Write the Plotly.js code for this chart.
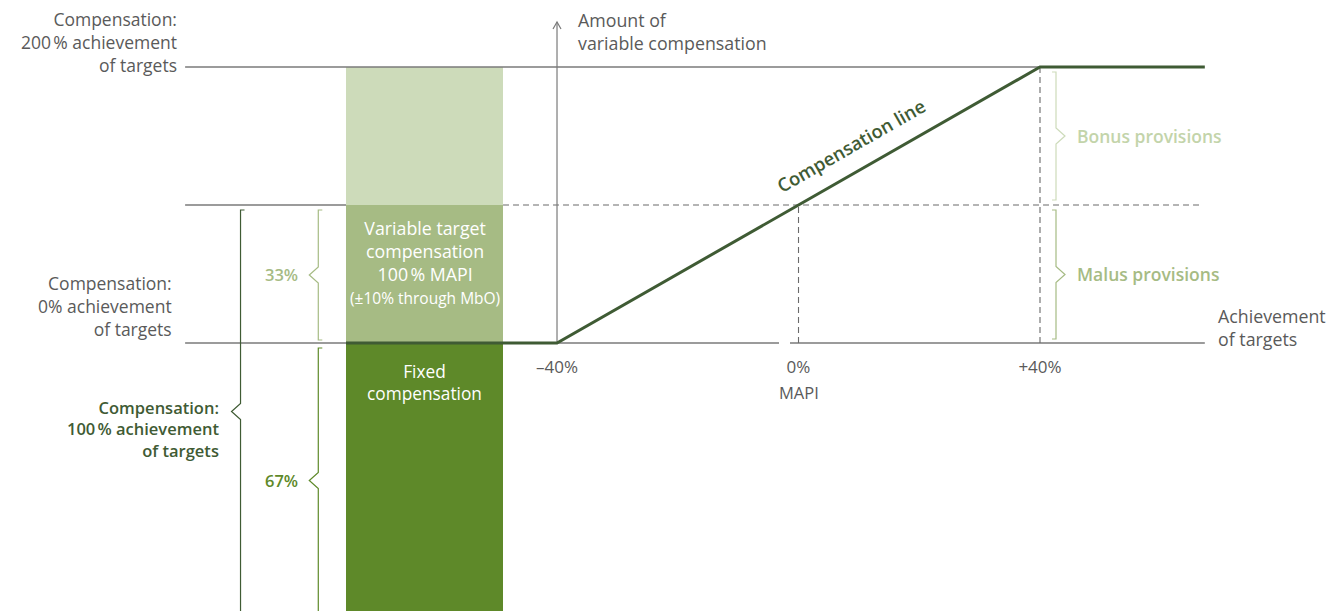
<!DOCTYPE html>
<html>
<head>
<meta charset="utf-8">
<script src="https://cdn.plot.ly/plotly-3.0.1.min.js"></script>
<style>html,body{margin:0;padding:0;background:#fff}#chart{width:1340px;height:611px}</style>
</head>
<body>
<div id="chart"></div>
<script>
// ---------------- data ----------------
const shareNames = ['Fixed compensation', 'Variable target compensation', 'Bonus provisions'];
const shareValues = [67, 33, 33];              // % of total target compensation
const shareLabels = ['67%', '33%'];
const achievementPts = [-40, 0, 40];           // achievement of targets vs MAPI (%)
const payoutPct = [0, 100, 200];               // payout of variable target (%)
const tickVals = [-40, 0, 40];
const tickText = ['\u201340%', '0%', '+40%'];
const provisionLabels = ['Bonus provisions', 'Malus provisions'];

// ---------------- layout constants ----------------
const W = 1340, H = 611;
const X_RANGE = [-132.26, 89.69];
const Y_RANGE = [2.91, 149.02];
const kx = W / (X_RANGE[1] - X_RANGE[0]);
const ky = H / (Y_RANGE[1] - Y_RANGE[0]);
const dx = n => n / kx, dy = n => n / ky;

const BAR_L = -74.95, BAR_R = -48.94, BAR_C = (BAR_L + BAR_R) / 2;
const LINE_L = -101.6, LINE_R = 67.3, DASH_R = 66.8;
const GAP = [-3.23, -1.41];
const BIG_BR_X = -92.42, PCT_BR_X = -79.54, PROV_BR_X = 42.65;

const fixed = shareValues[0], variable = shareValues[1];
const base = [0, fixed, fixed + variable];
const targetTop = fixed + variable;
const maxTop = fixed + variable + shareValues[2];
const compY = payoutPct.map(p => fixed + variable * p / 100);
const axisTop = Y_RANGE[1] - dy(22);

const GRAY = '#7a7a7a', DARK = '#3f5b34', MID = '#a6bb84', LIGHT = '#cddbba', FIX = '#5e8929';
const TXT = '#5a5a5a';
const FONT = 'Open Sans, Noto Sans, sans-serif';

// ---------------- traces ----------------
const traces = [
  {type: 'bar', x: shareValues.map(() => BAR_C), y: shareValues, base: base,
   width: shareValues.map(() => BAR_R - BAR_L), text: shareNames, textposition: 'none',
   marker: {color: [FIX, MID, LIGHT], line: {width: 0}}, hoverinfo: 'skip', showlegend: false},
  {type: 'scatter', mode: 'lines', hoverinfo: 'skip', showlegend: false,
   x: [LINE_L, achievementPts[2], null, LINE_L, BAR_L, null, LINE_L, GAP[0], null, GAP[1], LINE_R],
   y: [maxTop, maxTop, null, targetTop, targetTop, null, fixed, fixed, null, fixed, fixed],
   line: {color: GRAY, width: 1.3}},
  {type: 'scatter', mode: 'lines', hoverinfo: 'skip', showlegend: false,
   x: [BAR_R, DASH_R, null, achievementPts[1], achievementPts[1], null, achievementPts[2], achievementPts[2]],
   y: [targetTop, targetTop, null, fixed, targetTop, null, fixed, maxTop],
   line: {color: '#6a6a6a', width: 1.1, dash: '6px,4px'}},
  {type: 'scatter', mode: 'lines', hoverinfo: 'skip', showlegend: false,
   x: [achievementPts[0], achievementPts[0]], y: [fixed, axisTop],
   line: {color: GRAY, width: 1.2}},
  {type: 'scatter', mode: 'lines', hoverinfo: 'skip', showlegend: false,
   x: [BAR_L, ...achievementPts, LINE_R], y: [fixed, ...compY, compY[compY.length - 1]],
   line: {color: DARK, width: 3}}
];

// ---------------- brackets ----------------
function brace(x, yTop, yBot, dir, color) {
  // dir = -1 : notch points left, serifs to the right; dir = +1 : opposite
  const s = dx(4) * -dir, d = dx(9) * dir, h = dy(8), m = (yTop + yBot) / 2;
  return {type: 'path', xref: 'x', yref: 'y', line: {color: color, width: 1.2},
    path: `M${x + s},${yTop} L${x},${yTop} L${x},${m + h} L${x + d},${m} L${x},${m - h} L${x},${yBot} L${x + s},${yBot}`};
}
const gapY = dy(5);
const bottomY = 2.4;
const shapes = [
  brace(BIG_BR_X, targetTop - gapY, bottomY, -1, DARK),
  brace(PCT_BR_X, targetTop - gapY, fixed + dy(3), -1, MID),
  brace(PCT_BR_X, fixed - dy(5), bottomY, -1, FIX),
  brace(PROV_BR_X, maxTop - gapY, targetTop + dy(5), 1, LIGHT),
  brace(PROV_BR_X, targetTop - gapY, fixed + dy(4), 1, MID),
  {type: 'path', xref: 'x', yref: 'y', line: {color: GRAY, width: 1.2},
   path: `M${achievementPts[0] - dx(4)},${axisTop - dy(7)} L${achievementPts[0]},${axisTop} L${achievementPts[0] + dx(4)},${axisTop - dy(7)}`}
];

const mid = (a, b) => (a + b) / 2;
const ann = (o) => Object.assign({xref: 'x', yref: 'y', showarrow: false}, o);
const annotations = [
  ann({x: -102.6, y: Y_RANGE[1] - dy(42), xanchor: 'right', align: 'right',
       text: 'Compensation:<br>200\u202f% achievement<br>of targets', font: {family: FONT, size: 17.5, color: TXT}}),
  ann({x: -103.4, y: Y_RANGE[1] - dy(306), xanchor: 'right', align: 'right',
       text: 'Compensation:<br>0% achievement<br>of targets', font: {family: FONT, size: 17.5, color: TXT}}),
  ann({x: -36.9, y: Y_RANGE[1] - dy(31), xanchor: 'left', align: 'left',
       text: 'Amount of<br>variable compensation', font: {family: FONT, size: 17.8, color: TXT}}),
  ann({x: 69.2, y: Y_RANGE[1] - dy(327), xanchor: 'left', align: 'left',
       text: 'Achievement<br>of targets', font: {family: FONT, size: 17.8, color: TXT}}),
  ann({x: achievementPts[1], y: Y_RANGE[1] - dy(392), xanchor: 'center',
       text: 'MAPI', font: {family: FONT, size: 16.5, color: TXT}}),
  ann({x: BAR_C, y: Y_RANGE[1] - dy(262), xanchor: 'center', align: 'center',
       text: 'Variable target<br>compensation<br>100\u202f% MAPI<br><span style="font-size:15.5px">(\u00b110% through MbO)</span>',
       font: {family: FONT, size: 17.8, color: '#ffffff'}}),
  ann({x: BAR_C, y: Y_RANGE[1] - dy(382), xanchor: 'center', align: 'center',
       text: 'Fixed<br>compensation', font: {family: FONT, size: 17.3, color: '#ffffff'}}),
  ann({x: -82.57, y: mid(targetTop - gapY, fixed + dy(3)), xanchor: 'right',
       text: shareLabels[1], font: {family: FONT, size: 16.5, color: MID, weight: 600}}),
  ann({x: -82.57, y: mid(fixed - dy(5), bottomY), xanchor: 'right',
       text: shareLabels[0], font: {family: FONT, size: 16.5, color: FIX, weight: 600}}),
  ann({x: -95.65, y: mid(targetTop - gapY, bottomY) + dy(18), xanchor: 'right', yanchor: 'top', align: 'right',
       text: 'Compensation:<br>100\u202f% achievement<br>of targets', font: {family: FONT, size: 16.5, color: DARK, weight: 600}}),
  ann({x: 45.8, y: mid(maxTop - gapY, targetTop + dy(5)), xanchor: 'left',
       text: provisionLabels[0], font: {family: FONT, size: 17.5, color: '#c3d4aa', weight: 600}}),
  ann({x: 45.8, y: mid(targetTop - gapY, fixed + dy(4)), xanchor: 'left',
       text: provisionLabels[1], font: {family: FONT, size: 17.5, color: MID, weight: 600}}),
  ann({x: 8.6, y: Y_RANGE[1] - dy(145), xanchor: 'center', yanchor: 'middle',
       textangle: -Math.atan(((maxTop - fixed) * ky) / ((achievementPts[2] - achievementPts[0]) * kx)) * 180 / Math.PI,
       text: 'Compensation line', font: {family: FONT, size: 18.5, color: DARK, weight: 600}})
];

const layout = {
  width: W, height: H, margin: {l: 0, r: 0, t: 0, b: 0},
  paper_bgcolor: '#ffffff', plot_bgcolor: '#ffffff',
  barmode: 'overlay', bargap: 0,
  xaxis: {range: X_RANGE, anchor: 'free', position: (fixed - Y_RANGE[0]) / (Y_RANGE[1] - Y_RANGE[0]),
          tickvals: tickVals, ticktext: tickText, ticks: '', showline: false, showgrid: false, zeroline: false,
          ticklabelstandoff: 12, tickfont: {family: FONT, size: 17, color: TXT}, fixedrange: true},
  yaxis: {range: Y_RANGE, visible: false, showgrid: false, zeroline: false, fixedrange: true},
  shapes: shapes, annotations: annotations, showlegend: false
};

Plotly.newPlot('chart', traces, layout, {displayModeBar: false, staticPlot: true});
</script>
</body>
</html>
